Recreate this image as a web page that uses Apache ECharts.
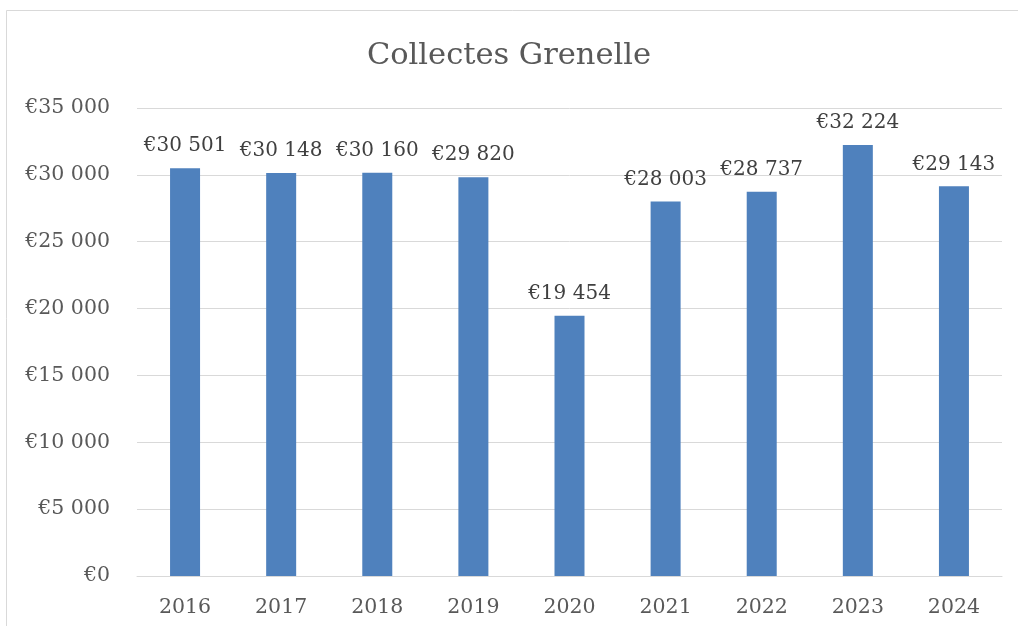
<!DOCTYPE html>
<html>
<head>
<meta charset="utf-8">
<script src="https://cdn.jsdelivr.net/npm/echarts@6/dist/echarts.min.js"></script>
<style>html,body{margin:0;padding:0;background:#fff}#c{width:1018px;height:626px}</style>
</head>
<body>
<div id="c"></div>
<script>
const categories = ['2016','2017','2018','2019','2020','2021','2022','2023','2024'];
const values = [30501, 30148, 30160, 29820, 19454, 28003, 28737, 32224, 29143];
const titleText = 'Collectes Grenelle';

function fmt(v){
  return '€' + String(v).replace(/\B(?=(\d{3})+(?!\d))/g, ' ');
}
const FONT = 'DejaVu Serif';
const chart = echarts.init(document.getElementById('c'));
chart.setOption({
  animation: false,
  backgroundColor: '#fff',
  graphic: [{
    type: 'rect', shape: {x: 6.5, y: 10.5, width: 1100, height: 700},
    style: {fill: 'none', stroke: '#d9d9d9', lineWidth: 1}, silent: true
  }],
  title: {
    text: titleText, left: 'center', top: 36,
    textStyle: {fontFamily: FONT, fontSize: 30.5, fontWeight: 'normal', color: '#595959'}
  },
  grid: {left: 137, right: 16, top: 108, bottom: 50},
  xAxis: {
    type: 'category', data: categories,
    axisLine: {lineStyle: {color: '#d9d9d9', width: 1}},
    axisTick: {show: false},
    axisLabel: {fontFamily: FONT, fontSize: 20.5, color: '#595959', margin: 21}
  },
  yAxis: {
    type: 'value', min: 0, max: 35000, interval: 5000,
    axisLine: {show: false}, axisTick: {show: false},
    splitLine: {lineStyle: {color: '#d9d9d9', width: 1}},
    axisLabel: {fontFamily: FONT, fontSize: 20.5, color: '#595959', margin: 27, formatter: fmt}
  },
  series: [{
    type: 'bar', data: values, barWidth: 30,
    itemStyle: {color: '#4f81bd'},
    label: {show: true, position: 'top', distance: 12, fontFamily: FONT, fontSize: 20, color: '#404040',
      formatter: p => fmt(p.value)}
  }]
});
</script>
</body>
</html>
